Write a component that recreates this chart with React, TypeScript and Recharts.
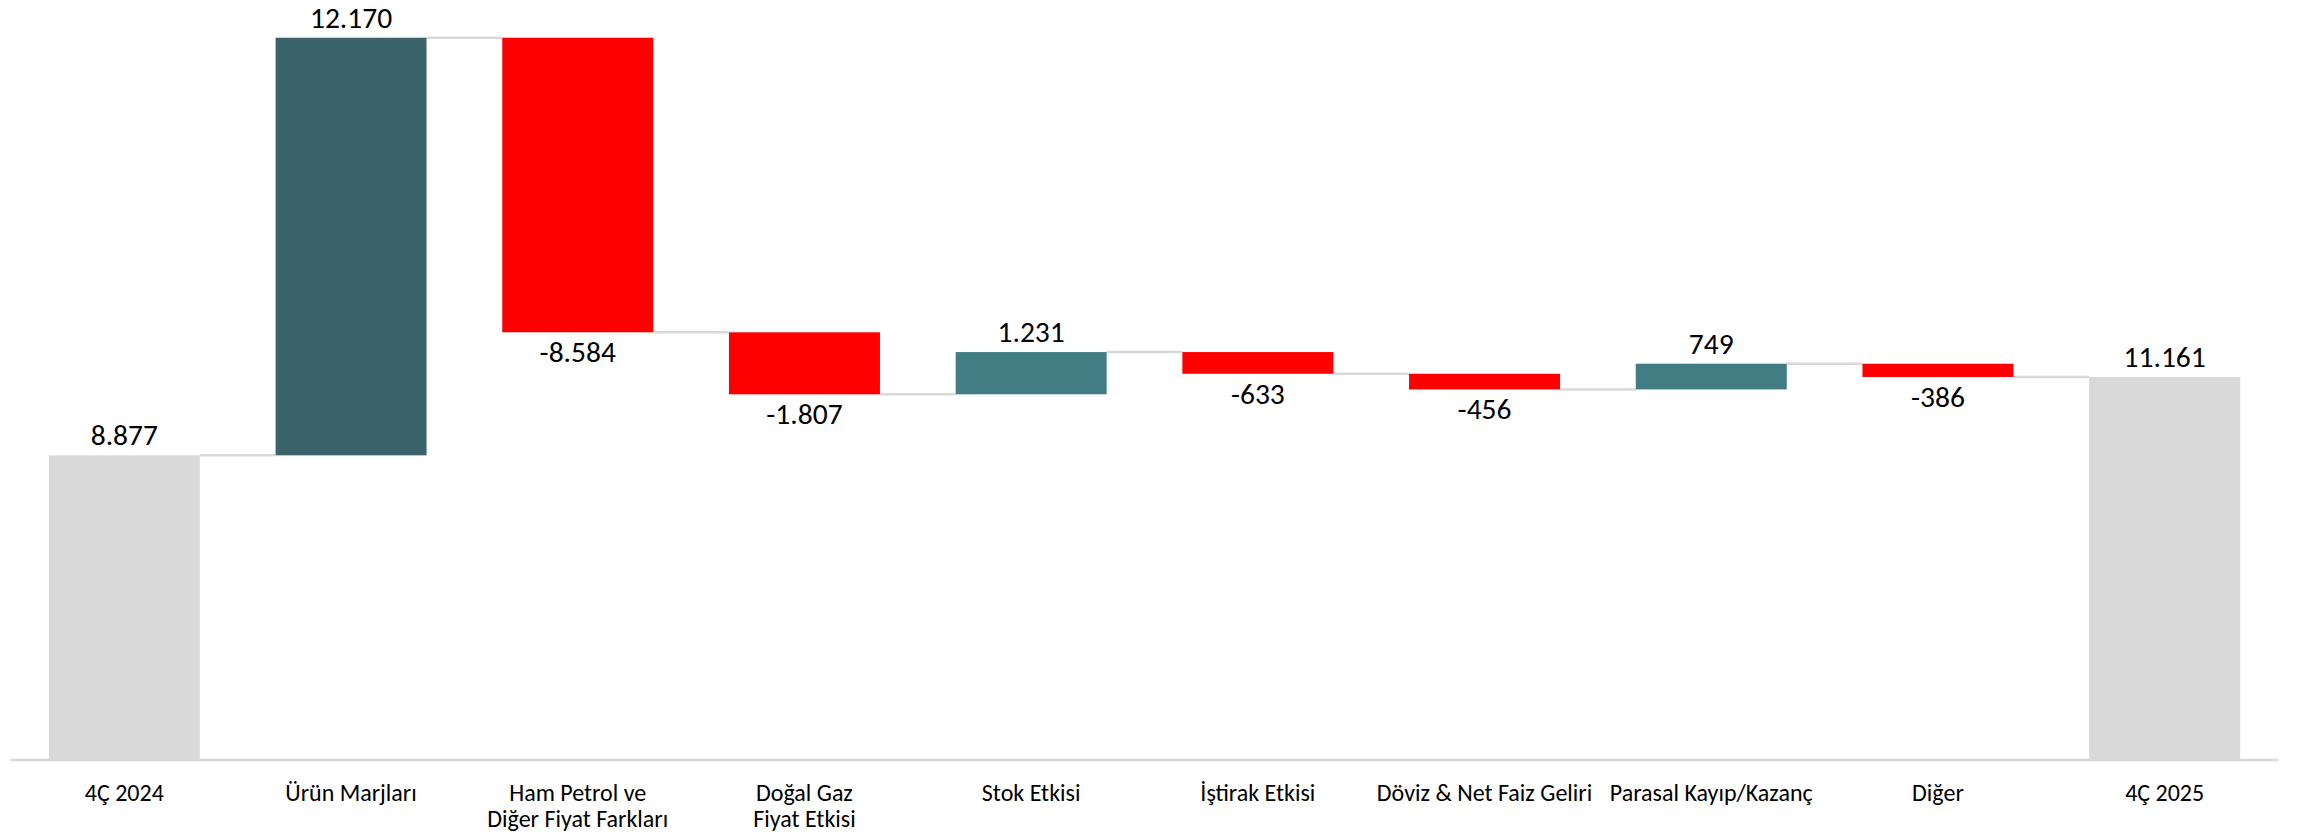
import React from "react";
import { ComposedChart, Bar, XAxis, YAxis, Cell, LabelList } from "recharts";

const categories = [
  "4Ç 2024",
  "Ürün Marjları",
  "Ham Petrol ve\nDiğer Fiyat Farkları",
  "Doğal Gaz\nFiyat Etkisi",
  "Stok Etkisi",
  "İştirak Etkisi",
  "Döviz & Net Faiz Geliri",
  "Parasal Kayıp/Kazanç",
  "Diğer",
  "4Ç 2025",
];
const changes = [8877, 12170, -8584, -1807, 1231, -633, -456, 749, -386, 11161];
const isTotal = [true, false, false, false, false, false, false, false, false, true];
const barColors = [
  "#D9D9D9",
  "#3A6469",
  "#FF0000",
  "#FF0000",
  "#417D82",
  "#FF0000",
  "#FF0000",
  "#417D82",
  "#FF0000",
  "#D9D9D9",
];

const FONT = "Carlito, Calibri, Lato, 'Open Sans', sans-serif";
const GAP_PCT = 16.7;

const fmt = (v: number) => {
  const s = Math.abs(v).toString().replace(/\B(?=(\d{3})+(?!\d))/g, ".");
  return (v < 0 ? "-" : "") + s;
};

const data = (() => {
  let running = 0;
  return categories.map((c, i) => {
    let base: number;
    let size: number;
    let end: number;
    if (isTotal[i]) {
      base = 0;
      size = changes[i];
      end = changes[i];
    } else {
      const start = running;
      end = running + changes[i];
      base = Math.min(start, end);
      size = Math.abs(changes[i]);
    }
    running = end;
    return { name: c, base, size, label: fmt(changes[i]), idx: i };
  });
})();

const ratio = (2 * GAP_PCT) / (100 - 2 * GAP_PCT);

const BarShape = (props: any) => {
  const { x, y, width, height, index, fill } = props;
  const i = index;
  const neg = !isTotal[i] && changes[i] < 0;
  const endY = neg ? y + height : y;
  const gap = width * ratio;
  return (
    <g>
      {i < categories.length - 1 && (
        <line x1={x + width} x2={x + width + gap} y1={endY} y2={endY} stroke="#D9D9D9" strokeWidth={2.5} />
      )}
      <rect x={x} y={y} width={width} height={height} fill={fill} />
    </g>
  );
};

const ValueLabel = (props: any) => {
  const { x, y, width, height, index, value } = props;
  const neg = !isTotal[index] && changes[index] < 0;
  const ty = neg ? y + height + 30 : y - 10;
  return (
    <text x={x + width / 2} y={ty} textAnchor="middle" fontFamily={FONT} fontWeight={400} fontSize={29.5} fill="#000">
      {value}
    </text>
  );
};

const Tick = (props: any) => {
  const { x, y, payload } = props;
  const lines = String(payload.value).split("\n");
  return (
    <text x={x} y={y} textAnchor="middle" fontFamily={FONT} fontWeight={400} fontSize={24} fill="#000">
      {lines.map((l, k) => (
        <tspan key={k} x={x} dy={k === 0 ? 41 : 26}>
          {l}
        </tspan>
      ))}
    </text>
  );
};

export default function App() {
  return (
    <div style={{ position: "absolute", left: 0, top: 0, width: 2303, height: 834, background: "#fff" }}>
      <ComposedChart
        width={2303}
        height={834}
        data={data}
        margin={{ top: 5, right: 25, bottom: 0, left: 11 }}
        barCategoryGap={`${GAP_PCT}%`}
      >
        <XAxis
          dataKey="name"
          interval={0}
          height={74}
          tickLine={false}
          tickSize={0}
          tickMargin={0}
          axisLine={{ stroke: "#D9D9D9", strokeWidth: 2.5 }}
          tick={<Tick />}
        />
        <YAxis hide domain={[0, 22000]} />
        <Bar dataKey="base" stackId="w" fill="transparent" isAnimationActive={false} />
        <Bar dataKey="size" stackId="w" isAnimationActive={false} shape={<BarShape />}>
          {data.map((d, i) => (
            <Cell key={i} fill={barColors[i]} />
          ))}
          <LabelList dataKey="label" content={<ValueLabel />} />
        </Bar>
      </ComposedChart>
    </div>
  );
}
